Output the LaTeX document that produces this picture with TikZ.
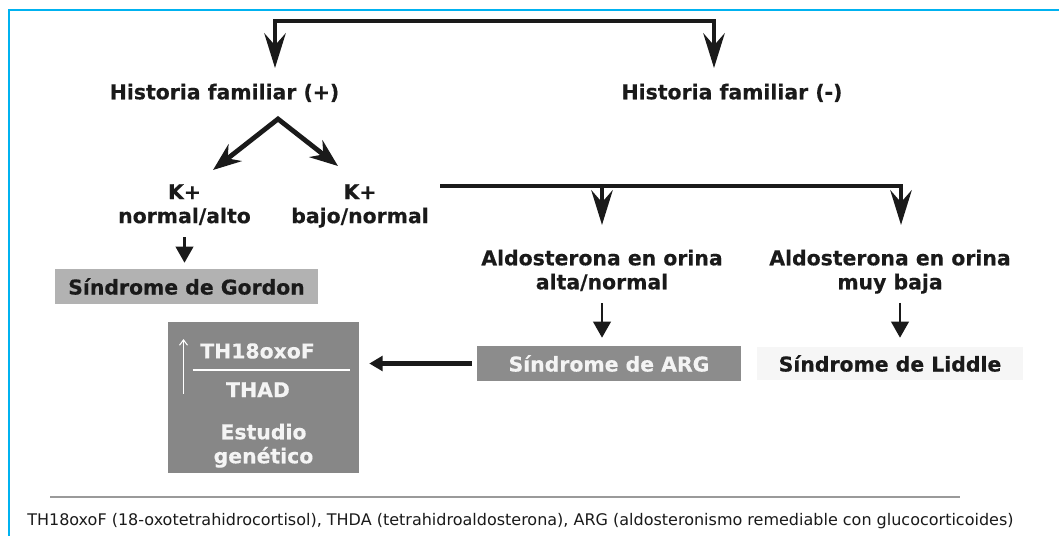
\documentclass[tikz,border=0pt]{standalone}
\usepackage{fontspec}
\setmainfont{DejaVu Sans}
\newfontfamily\lblfam{DejaVu Sans Bold}[FakeBold=0.4]
\usetikzlibrary{arrows.meta}
\definecolor{frame}{RGB}{0,178,240}
\definecolor{ink}{HTML}{1A1A1A}
\definecolor{gordonfill}{HTML}{B2B2B2}
\definecolor{darkbox}{HTML}{878787}
\definecolor{argfill}{HTML}{8C8C8C}
\definecolor{liddlefill}{HTML}{F6F6F6}
\definecolor{sepline}{HTML}{9A9A9A}
\definecolor{boxtext}{HTML}{F4F4F4}
\tikzset{
  lblfont/.style={font=\fontsize{15.3}{18}\selectfont\lblfam},
  lbl/.style={lblfont, text=ink, align=center, inner sep=0pt, anchor=north},
  wlbl/.style={lbl, text=boxtext},
  boxbase/.style={lblfont, inner sep=0pt, draw=none, align=center},
  gbox/.style={boxbase, fill=gordonfill, text=ink, minimum width=197.25pt, minimum height=26.25pt},
  abox/.style={boxbase, fill=argfill, text=boxtext, minimum width=198pt, minimum height=26.25pt},
  lbox/.style={boxbase, fill=liddlefill, text=ink, minimum width=199.5pt, minimum height=24.75pt},
  dbox/.style={boxbase, fill=darkbox, minimum width=143.25pt, minimum height=113.25pt},
  bigtip/.tip={Stealth[length=26pt, width=16pt, inset=9pt]},
  midtip/.tip={Stealth[length=21pt, width=16pt, inset=7pt]},
  smalltip/.tip={Triangle[length=12pt, width=13pt]},
  lefttip/.tip={Triangle[length=10pt, width=11pt]},
  bigline/.style={draw=ink, line width=3.6pt, line join=miter},
  sline/.style={draw=ink, line width=2pt},
  lline/.style={draw=ink, line width=3.6pt},
}
\begin{document}
\begin{tikzpicture}[x=0.75pt, y=-0.75pt]
\useasboundingbox (0,0) rectangle (1059,536);
\fill[white] (0,0) rectangle (1059,536);
\draw[frame, line width=1.2pt] (1059,10) -- (9,10) -- (9,536);

% text nodes
\node[lbl] (hfp) at (224.5,83.5) {Historia familiar (+)};
\node[lbl] (hfn) at (732,83.5) {Historia familiar (-)};
\node[lbl] (kl) at (184.5,184) {K+\\normal/alto};
\node[lbl] (kr) at (360,184) {K+\\bajo/normal};
\node[lbl] (aa) at (602,249.5) {Aldosterona en orina\\alta/normal};
\node[lbl] (ab) at (890,249.5) {Aldosterona en orina\\muy baja};

% boxes
\node[gbox] (gordon) at (186.5,286.5) {Síndrome de Gordon};
\node[abox] (arg) at (609,363.5) {Síndrome de ARG};
\node[lbox] (liddle) at (890,363.5) {Síndrome de Liddle};
\node[dbox] (eval) at (263.5,397.5) {};
\node[wlbl] (th) at (257.5,343) {TH18oxoF};
\node[wlbl] (thad) at (258,382) {THAD};
\node[wlbl] (gen) at (263.5,423.5) {Estudio\\genético};
\draw[white, line width=0.8pt, -{Straight Barb[length=4pt, width=6pt]}] (183.5,393.5) -- (183.5,339);
\draw[white, line width=0.8pt] (192.5,370) -- (350,370);

% top connector
\coordinate (tl) at (275,21);
\coordinate (tr) at (714,21);
\draw[bigline, {bigtip}-{bigtip}, shorten <=11.6pt, shorten >=11.6pt]
  (hfp.north -| tl) -- (tl) -- (tr) -- (hfn.north -| tr);

% split
\coordinate (apex) at (278,119);
\coordinate (sl) at (213,170);
\coordinate (sr) at (338,166);
\draw[bigline, {midtip}-{midtip}] (sl) -- (apex) -- (sr);

% middle connector
\coordinate (m0) at (440,186);
\coordinate (m1) at (602,186);
\coordinate (m2) at (901,186);
\draw[bigline, -{bigtip}, shorten >=18.4pt] (m0) -- (m2) -- (ab.north -| m2);
\draw[bigline, -{bigtip}, shorten >=18.4pt] (m1) -- (aa.north -| m1);

% small arrows
\draw[sline, -{smalltip}, shorten <=9pt, shorten >=4.5pt] (kl.south) -- (kl.south |- gordon.north);
\draw[sline, -{smalltip}, shorten <=9pt, shorten >=6pt] (aa.south) -- (aa.south |- arg.north);
\draw[sline, -{smalltip}, shorten <=6.75pt, shorten >=6.75pt] ([xshift=7.5pt]ab.south) -- ([xshift=7.5pt]ab.south |- liddle.north);

% ARG to evaluation
\draw[lline, -{lefttip}, shorten <=3.75pt, shorten >=7.5pt] (arg.west) -- (eval.east |- arg.west);

% footnote
\draw[sepline, line width=1.1pt] (50,497) -- (960,497);
\node[anchor=base west, inner sep=0pt, text=ink, font=\fontsize{12}{14}\selectfont] (fn) at (27,525)
  {TH18oxoF (18-oxotetrahidrocortisol), THDA (tetrahidroaldosterona), ARG (aldosteronismo remediable con glucocorticoides)};
\end{tikzpicture}
\end{document}
